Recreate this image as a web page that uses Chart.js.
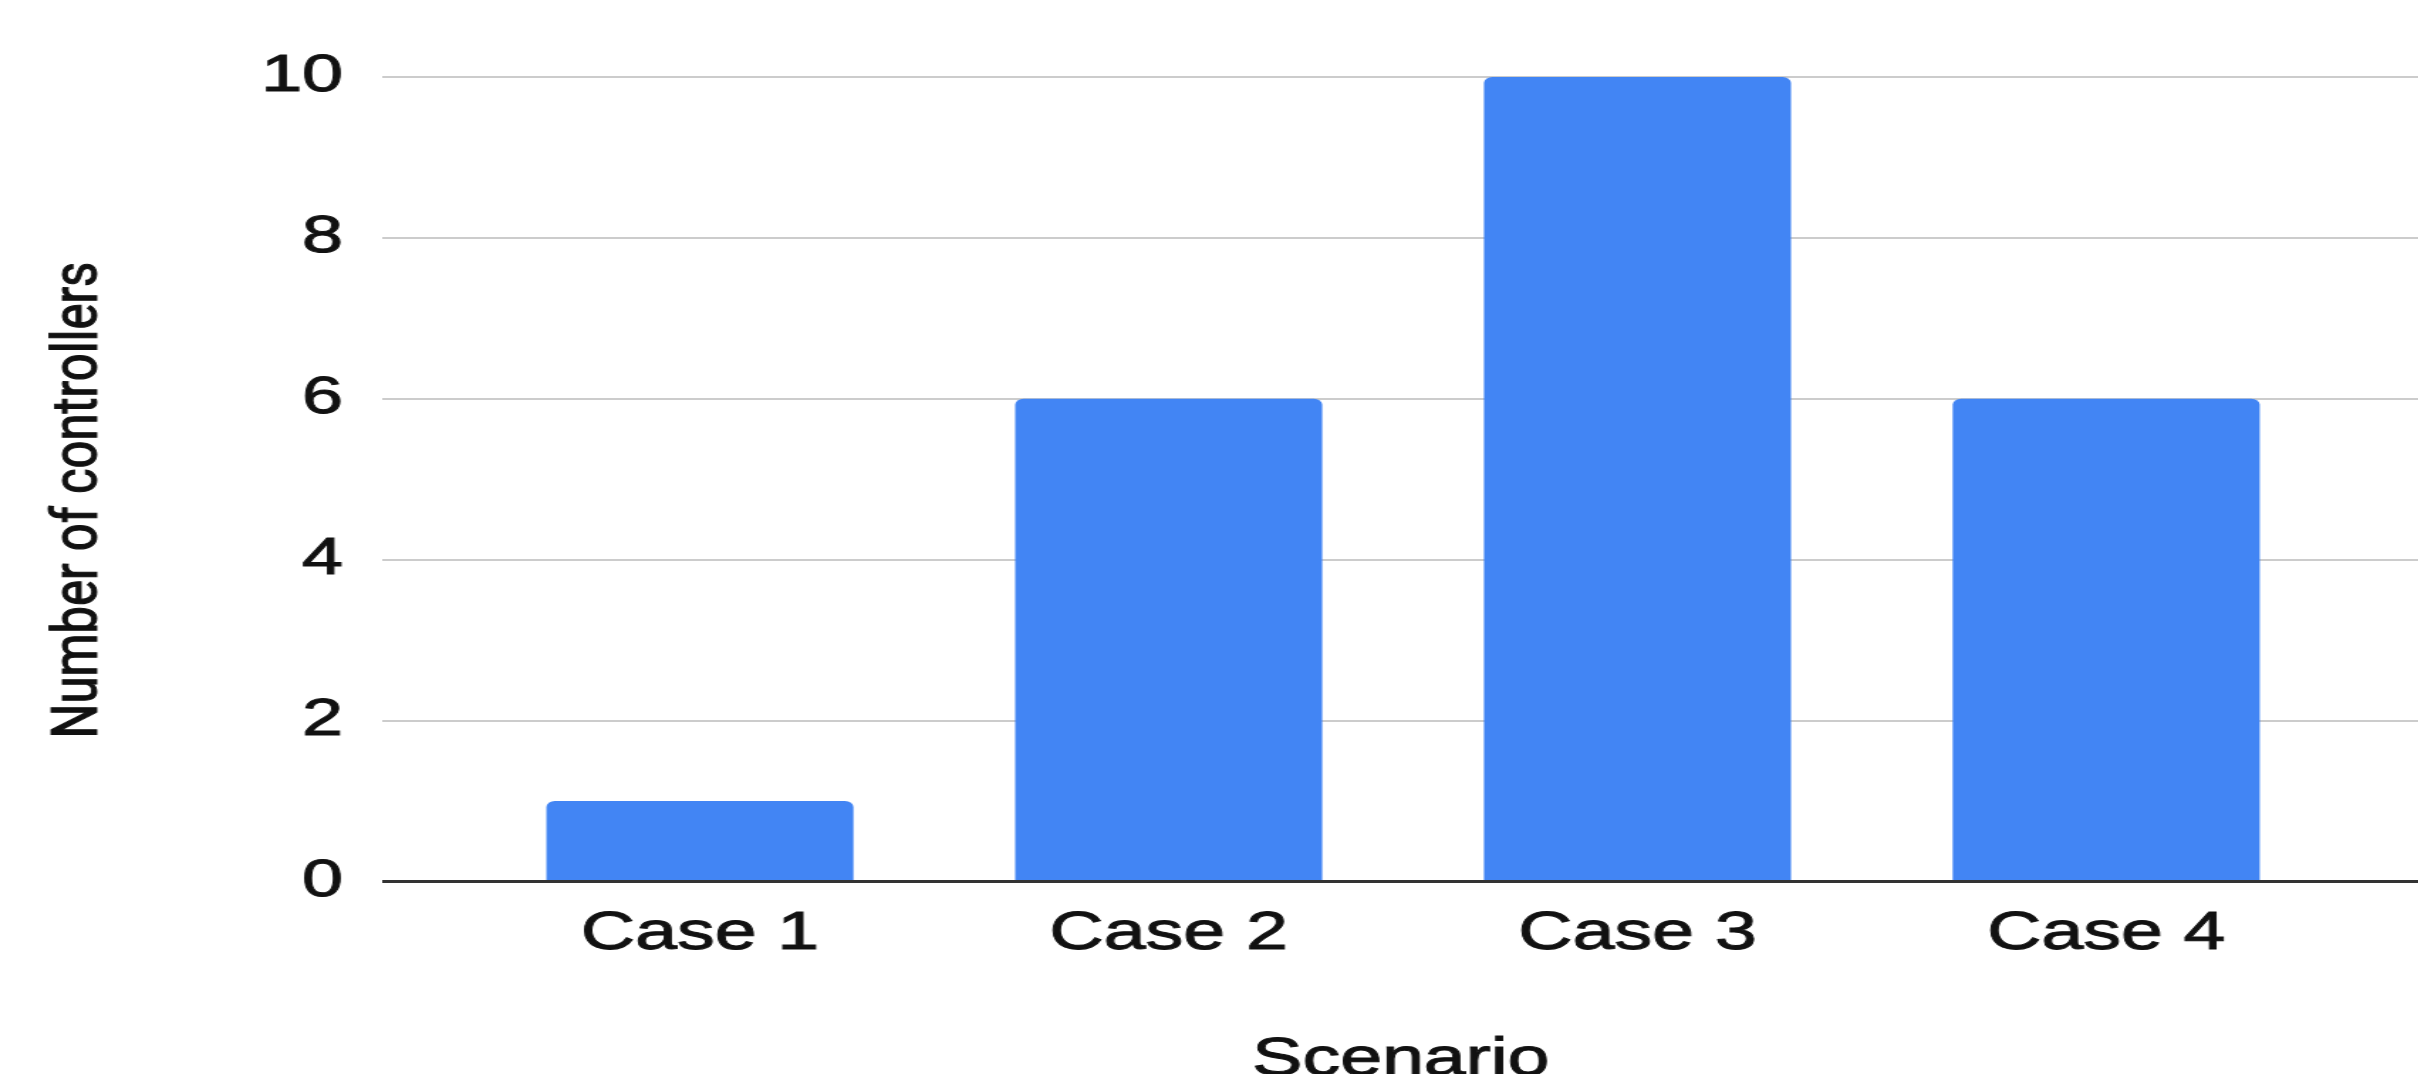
<!DOCTYPE html>
<html>
<head>
<meta charset="utf-8">
<title>Number of controllers by scenario</title>
<script src="https://cdn.jsdelivr.net/npm/chart.js@4.4.1/dist/chart.umd.min.js"></script>
<style>
  html, body { margin: 0; padding: 0; background: #ffffff; overflow: hidden; }
  #wrap { position: absolute; left: 0; top: 0; height: 1074px; transform-origin: 0 0; }
  canvas { display: block; }
</style>
</head>
<body>
<div id="wrap"><canvas id="chart"></canvas></div>
<script>
// Chart data
const categories = ['Case 1', 'Case 2', 'Case 3', 'Case 4'];
const controllers = [1, 6, 10, 6];
const yTicks = [0, 2, 4, 6, 8, 10];
const xTitle = 'Scenario';
const yTitle = 'Number of controllers';

// The chart is drawn on a narrower canvas and widened horizontally.
const STRETCH = 1.42;
const PAGE_W = 2418;
const wrap = document.getElementById('wrap');
wrap.style.width = (PAGE_W / STRETCH) + 'px';
wrap.style.transform = 'scaleX(' + STRETCH + ')';

const AXIS_LEFT = 382 / STRETCH;   // left edge of the plot area (canvas px)
const FIRST_CENTER = 699.5;        // page px
const STEP = 468.5;                // page px between category centres
const xMin = -(FIRST_CENTER - 382) / STEP;
const xMax = (PAGE_W - FIRST_CENTER) / STEP;

const points = categories.map((c, i) => ({ x: i, y: controllers[i] }));
const TEXT_COLOR = '#111111';

// Axis titles: the y title is rotated and narrowed along its length.
const axisTitlePlugin = {
  id: 'axisTitles',
  afterDraw(chart) {
    const ctx = chart.ctx;
    const area = chart.chartArea;

    ctx.save();
    ctx.fillStyle = TEXT_COLOR;
    ctx.strokeStyle = TEXT_COLOR;
    ctx.lineWidth = 1;
    ctx.font = '53px "Liberation Sans"';
    ctx.textAlign = 'center';
    ctx.textBaseline = 'alphabetic';
    const xMid = (area.left + area.right) / 2;
    ctx.fillText(xTitle, xMid, 1075);
    ctx.strokeText(xTitle, xMid, 1075);
    ctx.restore();

    ctx.save();
    ctx.translate(96 / STRETCH, 500);
    ctx.scale(0.9, 1);
    ctx.rotate(-Math.PI / 2);
    ctx.font = '49px Roboto';
    ctx.fillStyle = TEXT_COLOR;
    ctx.strokeStyle = TEXT_COLOR;
    ctx.lineWidth = 1;
    ctx.textAlign = 'center';
    ctx.textBaseline = 'alphabetic';
    ctx.fillText(yTitle, 0, 0);
    ctx.strokeText(yTitle, 0, 0);
    ctx.restore();
  }
};

new Chart(document.getElementById('chart'), {
  type: 'bar',
  data: {
    datasets: [{
      data: points,
      backgroundColor: '#4285F4',
      borderRadius: { topLeft: 6, topRight: 6, bottomLeft: 0, bottomRight: 0 },
      borderSkipped: 'bottom',
      categoryPercentage: 1,
      barPercentage: 0.655
    }]
  },
  options: {
    responsive: true,
    maintainAspectRatio: false,
    animation: false,
    layout: { padding: { top: 77, right: 0, bottom: 0, left: 0 } },
    plugins: { legend: { display: false }, tooltip: { enabled: false } },
    scales: {
      x: {
        type: 'linear',
        offset: false,
        min: xMin,
        max: xMax,
        grid: { display: false, drawTicks: false, offset: false },
        border: { display: false },
        afterBuildTicks(scale) {
          scale.ticks = categories.map((c, i) => ({ value: i }));
        },
        afterFit(scale) { scale.height = 1074 - 881.5; },
        ticks: {
          autoSkip: false,
          maxRotation: 0,
          padding: 21,
          color: TEXT_COLOR,
          textStrokeColor: TEXT_COLOR,
          textStrokeWidth: 1,
          font: { family: 'Liberation Sans', size: 53, lineHeight: 1.2 },
          callback: (v) => categories[v] ?? ''
        },
        title: { display: false }
      },
      y: {
        min: 0,
        max: 10,
        afterBuildTicks(scale) {
          scale.ticks = yTicks.map(v => ({ value: v }));
        },
        afterFit(scale) { scale.width = AXIS_LEFT; },
        grid: {
          drawTicks: false,
          color: (c) => c.tick && c.tick.value === 0 ? '#333333' : '#cccccc',
          lineWidth: (c) => c.tick && c.tick.value === 0 ? 3 : 2
        },
        border: { display: false },
        ticks: {
          padding: 27.5,
          color: TEXT_COLOR,
          textStrokeColor: TEXT_COLOR,
          textStrokeWidth: 1,
          font: { family: 'Liberation Sans', size: 52, lineHeight: 1.2 }
        },
        title: { display: false }
      }
    }
  },
  plugins: [axisTitlePlugin]
});
</script>
</body>
</html>
